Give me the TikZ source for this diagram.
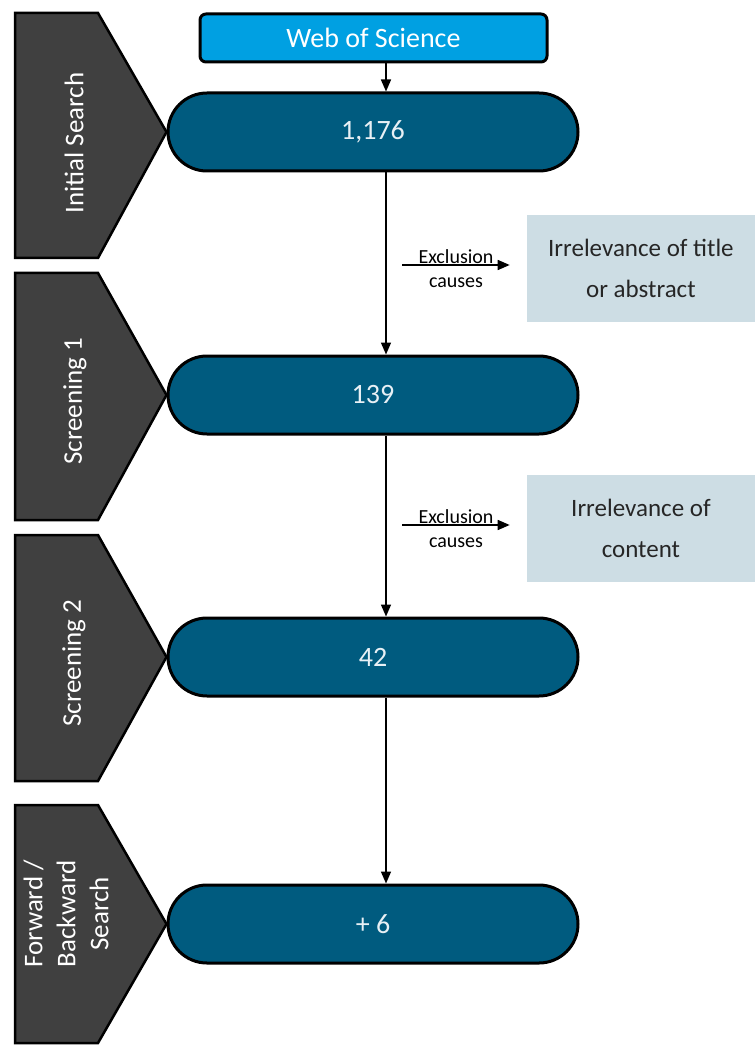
\documentclass[tikz,border=0pt]{standalone}
\usepackage{fontspec}
\setmainfont{Carlito}
\usepackage{xcolor}
\usepackage{tikz}
\usetikzlibrary{
    arrows.meta,
    positioning
}
\definecolor{wosblue}{RGB}{0,160,226}
\definecolor{pillblue}{RGB}{0,91,127}
\definecolor{stagegray}{RGB}{64,64,64}
\definecolor{causegray}{RGB}{205,221,228}
\definecolor{pilltext}{RGB}{232,240,245}
\tikzstyle{pill} = [
    rectangle, draw=black,
    line width=3pt,
    fill=pillblue,
    text=pilltext,
    minimum width=410pt,
    minimum height=78pt,
    rounded corners=39pt,
    font=\fontsize{28}{34}\selectfont
]
\tikzstyle{source} = [
    rectangle, draw=black,
    line width=3pt,
    fill=wosblue,
    text=white,
    rounded corners=6pt,
    minimum width=347pt,
    minimum height=48pt,
    font=\fontsize{28}{34}\selectfont
]
\tikzstyle{stage} = [
    draw=black,
    line width=2.5pt,
    fill=stagegray
]
\tikzstyle{stagelabel} = [
    rotate=90,
    text=white,
    align=center,
    inner sep=0pt,
    font=\fontsize{27}{33}\selectfont
]
\tikzstyle{cause} = [
    align=center,
    inner sep=0pt,
    minimum width=107pt,
    font=\fontsize{20}{24}\selectfont
]
\tikzstyle{reason} = [
    rectangle,
    fill=causegray,
    text=black!85,
    align=center,
    minimum width=228pt,
    minimum height=107pt,
    font=\fontsize{25}{41}\selectfont
]
\tikzstyle{arrow} = [
    line width=1.5pt,
    -{Triangle[length=12pt,width=10pt]}
]

\begin{document}
\begin{tikzpicture}[x=1pt, y=-1pt]
    \useasboundingbox (0,0) rectangle (755,1048);

    % source and counts
    \node[source] (wos) at (373.5,38) {Web of Science};
    \node[pill] (n1) at (373,132) {1,176};
    \node[pill] (n2) at (373,395) {139};
    \node[pill] (n3) at (373,657) {42};
    \node[pill] (n4) at (373,924) {+ 6};

    % stages on the left
    \draw[stage] (15,13) -- (98,13) -- (n1.west) -- (98,258) -- (15,258) -- cycle;
    \draw[stage] (15,273) -- (98,273) -- (n2.west) -- (98,520) -- (15,520) -- cycle;
    \draw[stage] (15,535) -- (98,535) -- (n3.west) -- (98,781) -- (15,781) -- cycle;
    \draw[stage] (15,805) -- (98,805) -- (n4.west) -- (98,1043) -- (15,1043) -- cycle;
    \node[stagelabel] (s1) at (74,143) {Initial Search};
    \node[stagelabel] (s2) at (75,401) {Screening 1};
    \node[stagelabel] (s3) at (74,663) {Screening 2};
    \node[stagelabel] (s4) at (66,914) {Forward /\\Backward\\Search};

    % main flow
    \coordinate (col) at (386,0);
    \draw[arrow] (wos.south -| col) -- (n1.north -| col);
    \draw[arrow] (n1.south -| col) -- (n2.north -| col);
    \draw[arrow] (n2.south -| col) -- (n3.north -| col);
    \draw[arrow] (n3.south -| col) -- (n4.north -| col);

    % exclusions
    \node[cause] (c1) at (456,268.4) {Exclusion\\causes};
    \node[cause] (c2) at (456,528.4) {Exclusion\\causes};
    \draw[arrow] ([yshift=3.4pt]c1.west) -- ([yshift=3.4pt]c1.east);
    \draw[arrow] ([yshift=3.4pt]c2.west) -- ([yshift=3.4pt]c2.east);
    \node[reason, right=17pt of c1] (r1) {Irrelevance of title\\or abstract};
    \node[reason, right=17pt of c2] (r2) {Irrelevance of\\content};
\end{tikzpicture}
\end{document}
